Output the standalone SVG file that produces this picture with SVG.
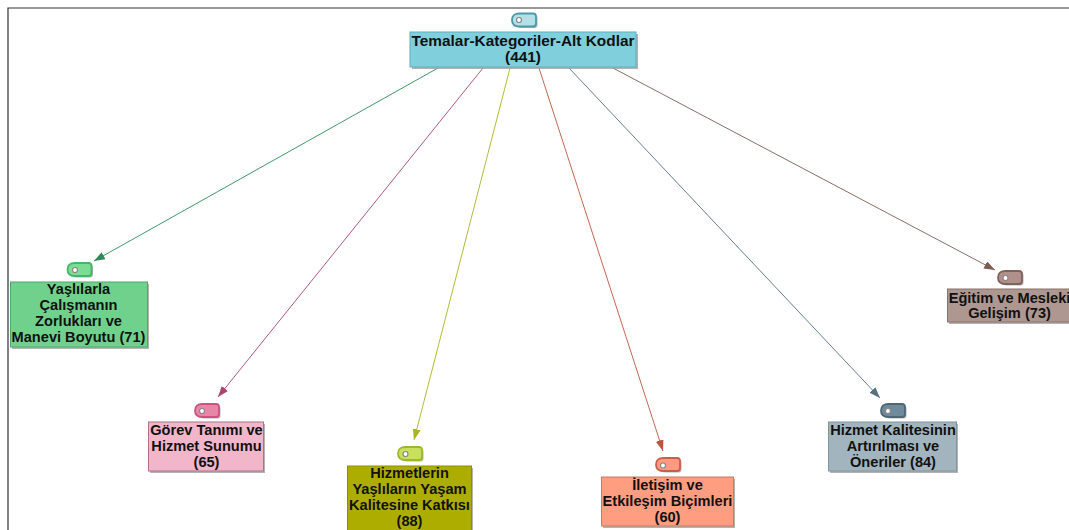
<svg xmlns="http://www.w3.org/2000/svg" width="1069" height="530" viewBox="0 0 1069 530">
<style>
text{font-family:"Liberation Sans",Arial,sans-serif;font-weight:700;font-size:14.6px;fill:#111;text-anchor:middle}
.root{font-size:15.4px}
.sh{fill:#999;opacity:.75}
.box{stroke-width:1}
.tag{stroke-width:1.8}
.tsh{fill:#999;opacity:.7}
.hole{fill:#fff;stroke:#888;stroke-width:1.2}
.c{fill:none;stroke-width:.9}
</style>
<defs>
<path id="tag" d="M7.500 0H21Q24 0 24 3V10Q24 13 21 13H7.500Q0 13 0 6.500Q0 0 7.500 0Z"/>
<marker id="ag" markerWidth="12" markerHeight="10" refX="11" refY="4" orient="auto" markerUnits="userSpaceOnUse"><path d="M0 0L11 4L0 8Z" fill="#2e8b57"/></marker>
<marker id="ap" markerWidth="12" markerHeight="10" refX="11" refY="4" orient="auto" markerUnits="userSpaceOnUse"><path d="M0 0L11 4L0 8Z" fill="#a5476f"/></marker>
<marker id="ay" markerWidth="12" markerHeight="10" refX="11" refY="4" orient="auto" markerUnits="userSpaceOnUse"><path d="M0 0L11 4L0 8Z" fill="#a9b51f"/></marker>
<marker id="ar" markerWidth="12" markerHeight="10" refX="11" refY="4" orient="auto" markerUnits="userSpaceOnUse"><path d="M0 0L11 4L0 8Z" fill="#bb5540"/></marker>
<marker id="as" markerWidth="12" markerHeight="10" refX="11" refY="4" orient="auto" markerUnits="userSpaceOnUse"><path d="M0 0L11 4L0 8Z" fill="#56707f"/></marker>
<marker id="ab" markerWidth="12" markerHeight="10" refX="11" refY="4" orient="auto" markerUnits="userSpaceOnUse"><path d="M0 0L11 4L0 8Z" fill="#7a5c55"/></marker>
</defs>
<rect width="1069" height="530" fill="#fff"/>
<path d="M8 530V8H1069" fill="none" stroke="#333" stroke-width="1.2"/>
<g id="connectors">
<path class="c" stroke="#2e8b57" marker-end="url(#ag)" d="M438 68L94 261"/>
<path class="c" stroke="#a5476f" marker-end="url(#ap)" d="M483 68L218 397"/>
<path class="c" stroke="#a9b51f" marker-end="url(#ay)" d="M510 68L414 440"/>
<path class="c" stroke="#bb5540" marker-end="url(#ar)" d="M539 68L663 451"/>
<path class="c" stroke="#56707f" marker-end="url(#as)" d="M569 68L880 398"/>
<path class="c" stroke="#7a5c55" marker-end="url(#ab)" d="M613 68L995 270"/>
</g>
<g id="node-root">
<use href="#tag" x="513.500" y="15" class="tsh"/><use href="#tag" x="512" y="13.500" fill="#b5e0e8" stroke="#4d99a8" class="tag"/><circle class="hole" cx="519" cy="20" r="2.500"/>
<rect class="sh" x="412" y="34" width="226" height="35"/><rect class="box" x="410" y="32" width="226" height="35" fill="#80cfdd" stroke="#5faebd"/>
<text class="root" x="523" y="46">Temalar-Kategoriler-Alt Kodlar</text><text class="root" x="523" y="62">(441)</text>
</g>
<g id="node-yaslilarla">
<use href="#tag" x="69" y="264.500" class="tsh"/><use href="#tag" x="67.500" y="263" fill="#7ddc94" stroke="#45b569" class="tag"/><circle class="hole" cx="75" cy="270" r="2.500"/>
<rect class="sh" x="12" y="284" width="137" height="65"/><rect class="box" x="10.500" y="282" width="137" height="65" fill="#70d18c" stroke="#4fa86c"/>
<text x="78.500" y="294">Yaşlılarla</text><text x="78.500" y="310">Çalışmanın</text><text x="78.500" y="326">Zorlukları ve</text><text x="78.500" y="342">Manevi Boyutu (71)</text>
</g>
<g id="node-gorev">
<use href="#tag" x="196.500" y="405.500" class="tsh"/><use href="#tag" x="195" y="404" fill="#e886a8" stroke="#d0507f" class="tag"/><circle class="hole" cx="202" cy="411" r="2.500"/>
<rect class="sh" x="150" y="424" width="115" height="49"/><rect class="box" x="148.500" y="422" width="115" height="49" fill="#f2b6cb" stroke="#b0708a"/>
<text x="206.500" y="435">Görev Tanımı ve</text><text x="206.500" y="451">Hizmet Sunumu</text><text x="206.500" y="467">(65)</text>
</g>
<g id="node-hizmetlerin">
<use href="#tag" x="399.500" y="448.500" class="tsh"/><use href="#tag" x="398" y="447" fill="#c8e05a" stroke="#9cb82c" class="tag"/><circle class="hole" cx="405.500" cy="454" r="2.500"/>
<rect class="sh" x="349" y="468" width="124" height="64"/><rect class="box" x="347.500" y="466" width="124" height="66" fill="#adad00" stroke="#8f8f00"/>
<text x="409.500" y="478">Hizmetlerin</text><text x="409.500" y="494">Yaşlıların Yaşam</text><text x="409.500" y="510">Kalitesine Katkısı</text><text x="409.500" y="526">(88)</text>
</g>
<g id="node-iletisim">
<use href="#tag" x="657.500" y="459.500" class="tsh"/><use href="#tag" x="656" y="458" fill="#ff9a82" stroke="#c85f48" class="tag"/><circle class="hole" cx="663" cy="465.500" r="2.500"/>
<rect class="sh" x="603" y="479" width="132" height="49"/><rect class="box" x="601.500" y="477" width="132" height="49" fill="#ff9d80" stroke="#c87a63"/>
<text x="667.500" y="490">İletişim ve</text><text x="667.500" y="506">Etkileşim Biçimleri</text><text x="667.500" y="522">(60)</text>
</g>
<g id="node-kalite">
<use href="#tag" x="882.500" y="405.500" class="tsh"/><use href="#tag" x="881" y="404" fill="#6f8a9a" stroke="#4f6675" class="tag"/><circle class="hole" cx="888" cy="411" r="2.500"/>
<rect class="sh" x="830" y="424" width="128" height="49"/><rect class="box" x="828.500" y="422" width="128" height="49" fill="#a2b5bf" stroke="#7f959f"/>
<text x="893" y="435">Hizmet Kalitesinin</text><text x="893" y="451">Artırılması ve</text><text x="893" y="467">Öneriler (84)</text>
</g>
<g id="node-egitim">
<use href="#tag" x="999.500" y="272.500" class="tsh"/><use href="#tag" x="998" y="271" fill="#b0908a" stroke="#7f625c" class="tag"/><circle class="hole" cx="1005.500" cy="278" r="2.500"/>
<rect class="sh" x="949" y="291" width="122" height="33"/><rect class="box" x="947.500" y="289" width="123" height="33" fill="#ae9790" stroke="#8a736c"/>
<text x="1009.500" y="303">Eğitim ve Mesleki</text><text x="1009.500" y="318">Gelişim (73)</text>
</g>
</svg>
